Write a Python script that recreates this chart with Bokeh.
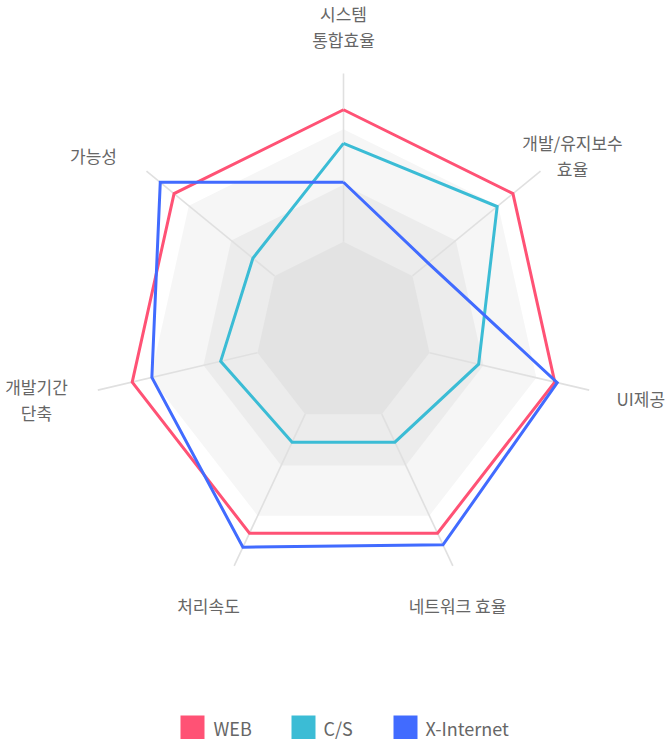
import numpy as np
from bokeh.plotting import figure
from bokeh.models import Range1d, ColumnDataSource
from bokeh.core.properties import value
from bokeh.embed import file_html
from bokeh.resources import INLINE

# ---------------- data ----------------
categories = ["시스템\n통합효율", "개발/유지보수\n효율", "UI제공", "네트워크 효율",
              "처리속도", "개발기간\n단축", "가능성"]
series_names = ["WEB", "C/S", "X-Internet"]
web = [86, 86, 86, 86, 86, 86, 86]
cs = [73, 78, 55, 47, 47, 50, 46]
xinternet = [58, 43, 87, 91, 92, 78, 93]
grid_levels = [35, 57, 78.5, 100]
value_max = 100

# ---------------- style / layout ----------------
colors = ["#ff5275", "#3bbcd5", "#416bff"]
band_colors = ["#f6f6f6", "#ececec", "#e3e3e3"]
axis_color = "#e0e0e0"
label_color = "#666666"
FONT = "Noto Sans CJK KR"

W, H = 670, 739
CX, CY = 343.0, 332.0      # radar centre (px)
SX, SY = 2.52, 2.59        # px per value unit

p = figure(width=W, height=H, output_backend="svg", toolbar_location=None,
           x_range=Range1d(-CX / SX, (W - CX) / SX),
           y_range=Range1d(-(H - CY) / SY, CY / SY),
           x_axis_location=None, y_axis_location=None, min_border=0)
p.grid.visible = False
p.outline_line_color = None
p.background_fill_color = "white"
p.border_fill_color = "white"

n = len(categories)
theta = np.pi / 2 - 2 * np.pi * np.arange(n) / n
cosv, sinv = np.cos(theta), np.sin(theta)


def poly(vals):
    v = np.asarray(vals, dtype=float)
    return list(v * cosv), list(v * sinv)


def scr(px, py):
    """page pixel -> data coordinate (for text / legend placement)"""
    return (px - CX) / SX, (CY - py) / SY


# background bands (outermost band is just the white page)
for lvl, col in zip(grid_levels[2::-1], band_colors):
    xs, ys = poly([lvl] * n)
    p.patch(xs, ys, fill_color=col, line_color=None)

# axis spokes (from inner polygon out to max)
r0 = grid_levels[0]
p.segment(x0=list(r0 * cosv), y0=list(r0 * sinv),
          x1=list(value_max * cosv), y1=list(value_max * sinv),
          line_color=axis_color, line_width=1.6)

# series
for vals, col in zip([web, cs, xinternet], colors):
    xs, ys = poly(vals)
    p.line(xs + xs[:1], ys + ys[:1], line_color=col, line_width=3, line_join="miter")

# category labels
label_pos = [(343, 26, "center"), (572, 155, "center"), (616, 398, "left"),
             (457, 605, "center"), (208, 605, "center"), (36, 399, "center"),
             (93, 155, "center")]
lx, ly, la = [], [], []
for (px, py, al) in label_pos:
    x, y = scr(px, py)
    lx.append(x)
    ly.append(y)
    la.append(al)
src = ColumnDataSource(dict(x=lx, y=ly, text=categories, align=la))
p.text(x="x", y="y", text="text", source=src, text_align="align",
       text_baseline="middle", text_font=value(FONT), text_font_size="17px",
       text_color=label_color, text_line_height=1.03)

# legend
leg_y = 727
sq_px = [192, 303, 405]
tx_px = [213, 323, 425]
sx_, sy_ = zip(*[scr(x, leg_y) for x in sq_px])
p.scatter(list(sx_), list(sy_), marker="square", size=24, fill_color=colors,
          line_color=None)
tx_, ty_ = zip(*[scr(x, leg_y) for x in tx_px])
p.text(list(tx_), list(ty_), text=series_names, text_align="left",
       text_baseline="middle", text_font=value(FONT), text_font_size="18px",
       text_color=label_color)

open("out.html", "w").write(file_html(p, INLINE))
